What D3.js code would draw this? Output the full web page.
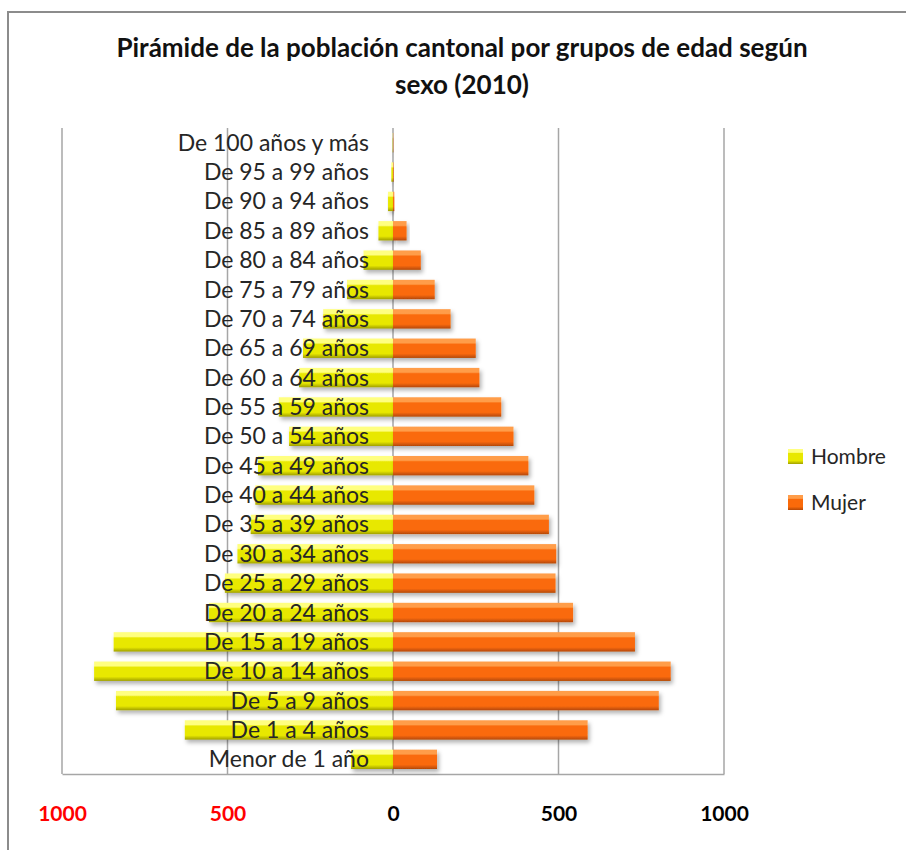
<!DOCTYPE html>
<meta charset="utf-8">
<style>
body { margin: 0; background: #fff; }
text { font-family: Lato, "Open Sans", sans-serif; }
.cat text { font-size: 23px; fill: #262626; }
.axis text { font-size: 21px; font-weight: bold; }
.legend text { font-size: 21px; fill: #262626; }
</style>
<svg width="906" height="850"></svg>
<script src="https://cdn.jsdelivr.net/npm/d3@7"></script>
<script>

var categories = ["De 100 años y más", "De 95 a 99 años", "De 90 a 94 años", "De 85 a 89 años",
  "De 80 a 84 años", "De 75 a 79 años", "De 70 a 74 años", "De 65 a 69 años", "De 60 a 64 años",
  "De 55 a 59 años", "De 50 a 54 años", "De 45 a 49 años", "De 40 a 44 años", "De 35 a 39 años",
  "De 30 a 34 años", "De 25 a 29 años", "De 20 a 24 años", "De 15 a 19 años", "De 10 a 14 años",
  "De 5 a 9 años", "De 1 a 4 años", "Menor de 1 año"];

var hombre = [1, 5, 15, 44, 89, 139, 211, 272, 284, 345, 314, 408, 416, 430, 470, 508, 556, 844, 903, 837, 629, 127];
var mujer  = [1, 2, 4, 41, 84, 126, 174, 250, 261, 327, 364, 409, 427, 471, 493, 491, 544, 731, 839, 803, 588, 133];

var ticks = [-1000, -500, 0, 500, 1000];
var series = ["Hombre", "Mujer"];

var svg = d3.select("svg"),
    margin = {top: 128, left: 62, right: 182, bottom: 76},
    width = 906 - margin.left - margin.right,
    height = 850 - margin.top - margin.bottom;

var x = d3.scaleLinear().domain([-1000, 1000]).range([0, width]);
var y = d3.scaleBand().domain(categories).range([0, height]).paddingInner(0.34).paddingOuter(0.17);

// defs: gradients + shadow
var defs = svg.append("defs");
function grad(id, light, main, dark) {
  var lg = defs.append("linearGradient").attr("id", id)
      .attr("x1", 0).attr("y1", 0).attr("x2", 0).attr("y2", 1);
  lg.append("stop").attr("offset", "0%").attr("stop-color", light);
  lg.append("stop").attr("offset", "22%").attr("stop-color", light);
  lg.append("stop").attr("offset", "30%").attr("stop-color", main);
  lg.append("stop").attr("offset", "78%").attr("stop-color", main);
  lg.append("stop").attr("offset", "100%").attr("stop-color", dark);
}
grad("gH", "#ffff80", "#e8e800", "#a0a000");
grad("gM", "#ff9d4a", "#fa6a0a", "#b44806");

var f = defs.append("filter").attr("id", "sh").attr("x", "-10%").attr("y", "-30%").attr("width", "130%").attr("height", "180%");
f.append("feDropShadow").attr("dx", 2).attr("dy", 3).attr("stdDeviation", 2)
    .attr("flood-color", "#000").attr("flood-opacity", 0.3);

// outer chart border
svg.append("rect")
    .attr("x", 8).attr("y", 12).attr("width", 1000).attr("height", 1000)
    .attr("fill", "none").attr("stroke", "#8c8c8c").attr("stroke-width", 2);

// title
var title = svg.append("text")
    .attr("x", 462).attr("text-anchor", "middle")
    .style("font-size", "26px").style("font-weight", "bold").attr("fill", "#111");
title.append("tspan").attr("x", 462).attr("y", 57).text("Pirámide de la población cantonal por grupos de edad según");
title.append("tspan").attr("x", 462).attr("y", 94).text("sexo (2010)");

var g = svg.append("g")
    .attr("transform", "translate(" + margin.left + "," + margin.top + ")");

// gridlines
g.append("g").selectAll("line").data(ticks).enter().append("line")
    .attr("x1", function(d) { return x(d); }).attr("x2", function(d) { return x(d); })
    .attr("y1", 0).attr("y2", height)
    .attr("stroke", "#a6a6a6").attr("stroke-width", 1.5);

// bottom axis line + labels
var axis = g.append("g").attr("class", "axis")
    .attr("transform", "translate(0," + height + ")")
    .call(d3.axisBottom(x).tickValues(ticks).tickSize(0).tickPadding(32)
      .tickFormat(function(d) { return Math.abs(d); }));
axis.select(".domain").attr("stroke", "#a6a6a6").attr("stroke-width", 1.5);
axis.selectAll("text")
    .attr("fill", function(d) { return d < 0 ? "#ff0000" : "#000"; })
    .style("font-family", "Lato, sans-serif");

// bars
function drawBars(vals, cls, fill, dir) {
  var bars = g.append("g").attr("class", cls).selectAll("g").data(vals).enter().append("g")
      .attr("filter", "url(#sh)");
  bars.append("rect")
      .attr("x", function(d) { return dir < 0 ? x(-d) : x(0); })
      .attr("y", function(d, i) { return y(categories[i]); })
      .attr("width", function(d) { return Math.abs(x(d) - x(0)); })
      .attr("height", y.bandwidth())
      .attr("fill", fill);
}
drawBars(hombre, "hombre", "url(#gH)", -1);
drawBars(mujer, "mujer", "url(#gM)", 1);

// category labels
g.append("g").attr("class", "cat").selectAll("text").data(categories).enter().append("text")
    .attr("x", x(0) - 24)
    .attr("y", function(d) { return y(d) + y.bandwidth() / 2; })
    .attr("dy", "0.35em")
    .attr("text-anchor", "end")
    .text(function(d) { return d; });

// legend
var legend = svg.append("g").attr("class", "legend")
    .selectAll("g").data(series).enter().append("g")
    .attr("transform", function(d, i) { return "translate(788," + (449 + i * 46) + ")"; });
legend.append("rect").attr("width", 15).attr("height", 15)
    .attr("fill", function(d, i) { return i ? "url(#gM)" : "url(#gH)"; });
legend.append("text").attr("x", 23).attr("y", 7.5).attr("dy", "0.35em")
    .text(function(d) { return d; });

</script>
